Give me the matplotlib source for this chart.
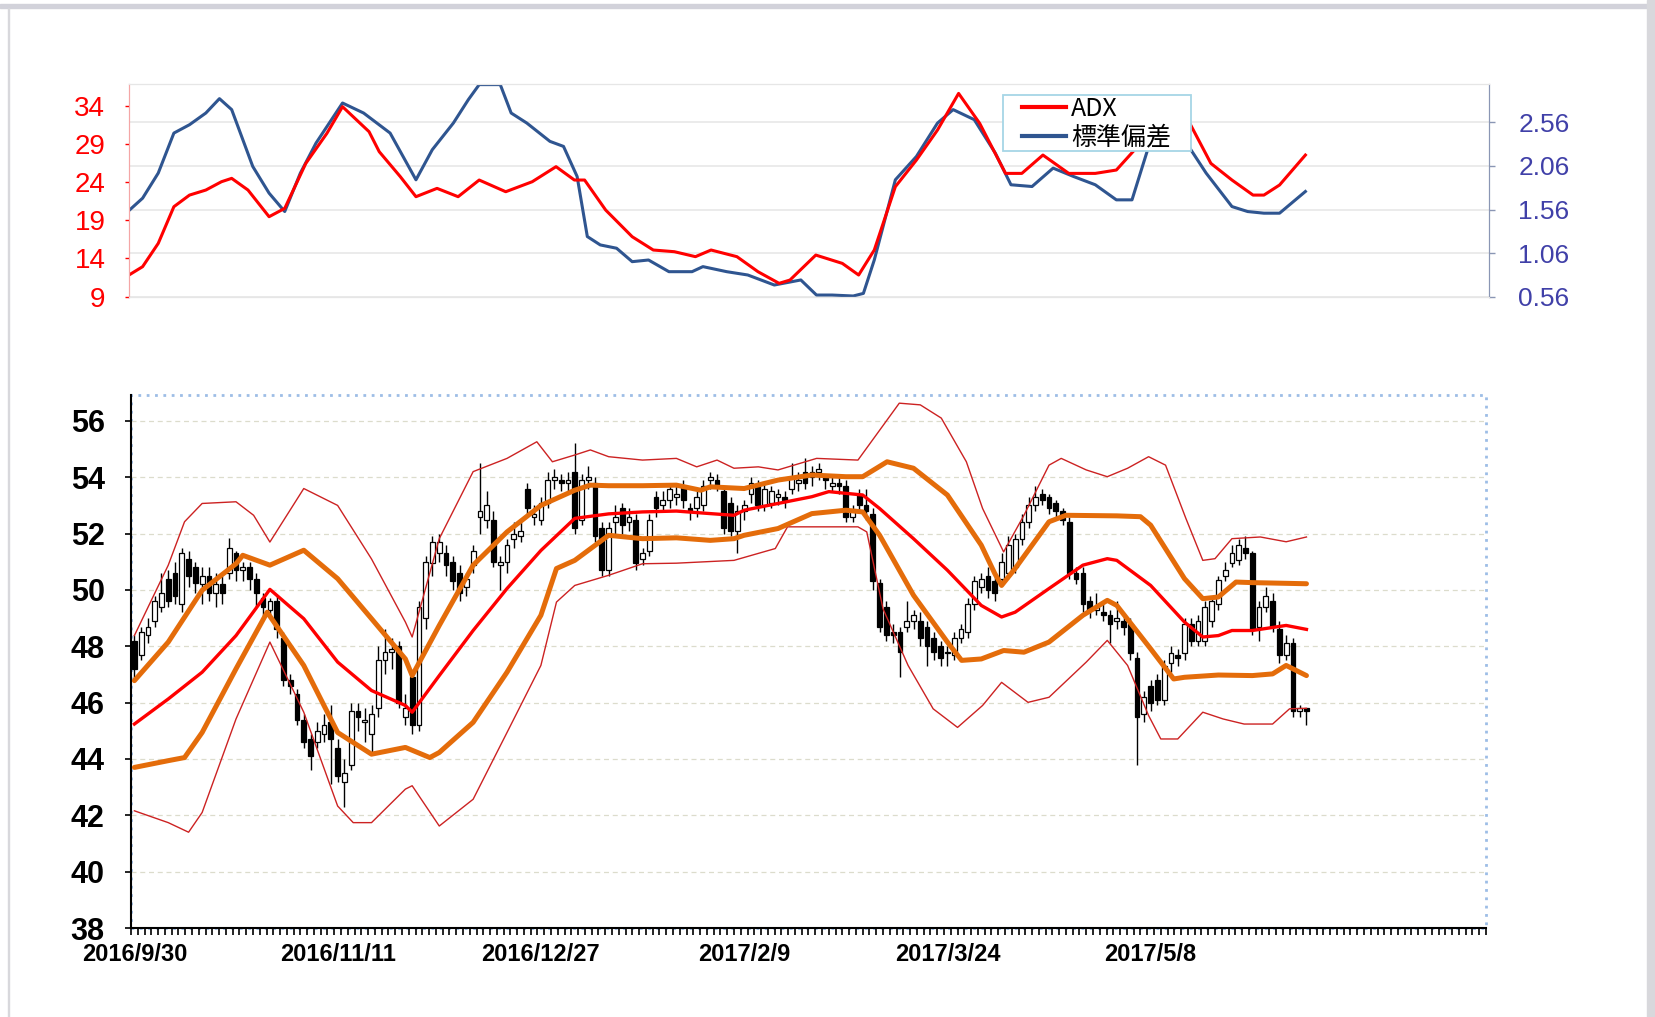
import matplotlib
matplotlib.use("Agg")
import matplotlib.pyplot as plt
from matplotlib.patches import Rectangle
from matplotlib.lines import Line2D

plt.rcParams['font.family'] = ['Liberation Sans', 'DejaVu Sans']

W, H = 1655, 1017

# ---------------- data ----------------
DATE_TICKS = [0, 30, 60, 90, 120, 150]
DATE_LABELS = ['2016/9/30', '2016/11/11', '2016/12/27', '2017/2/9', '2017/3/24', '2017/5/8']

OPEN = [48.2, 47.7, 48.4, 48.9, 49.4, 50.4, 50.6, 49.5, 51.1, 50.8,
        50.2, 50.5, 49.9, 50.2, 50.6, 51.3, 50.7, 50.8, 50.4, 49.7,
        49.3, 49.6, 48.3, 46.8, 46.3, 45.4, 44.7, 44.6, 44.9, 45.3,
        44.4, 43.2, 43.8, 45.7, 45.3, 44.9, 45.8, 47.5, 47.8, 48.0,
        45.5, 46.9, 45.2, 49.0, 50.95, 51.3, 51.3, 51.0, 50.6, 50.1,
        50.9, 52.6, 52.5, 52.5, 50.9, 51.0, 51.8, 51.9, 53.6, 52.6,
        52.5, 53.1, 53.9, 53.9, 53.8, 54.2, 52.5, 53.9, 53.8, 52.2,
        50.7, 52.4, 52.9, 52.4, 52.5, 51.1, 51.4, 53.3, 53.0, 53.2,
        53.3, 53.7, 52.9, 52.9, 53.0, 53.9, 53.9, 53.5, 53.1, 52.1,
        52.8, 53.4, 53.7, 53.0, 53.1, 53.3, 53.3, 53.6, 53.8, 54.2,
        54.2, 54.2, 54.0, 53.7, 53.8, 53.7, 52.6, 53.4, 53.0, 52.7,
        50.25, 49.4, 48.5, 48.5, 48.7, 48.9, 48.9, 48.7, 48.3, 48.0,
        47.8, 47.7, 48.3, 48.5, 49.5, 50.1, 50.5, 50.3, 50.4, 50.6,
        50.8, 51.8, 52.4, 53.0, 53.4, 53.3, 53.1, 52.8, 52.4, 50.6,
        50.6, 49.6, 49.3, 49.2, 49.1, 48.9, 48.9, 48.8, 47.6, 45.6,
        46.6, 46.8, 46.1, 47.4, 47.7, 47.75, 48.8, 48.2, 48.2, 48.9,
        49.5, 50.5, 50.95, 51.05, 51.5, 51.3, 48.7, 49.4, 49.6, 48.6,
        47.7, 48.1, 45.7, 45.8]
CLOSE = [47.2, 48.5, 48.7, 49.6, 49.9, 49.6, 49.8, 51.3, 50.5, 50.25,
         50.5, 49.9, 50.2, 49.9, 51.5, 50.7, 50.8, 50.4, 49.9, 49.4,
         49.6, 48.6, 46.8, 46.6, 45.4, 44.6, 44.1, 45.0, 45.2, 44.7,
         43.4, 43.5, 45.7, 45.5, 45.4, 45.6, 47.5, 47.8, 47.9, 46.0,
         45.8, 45.2, 49.4, 51.0, 51.7, 51.7, 50.9, 50.3, 49.9, 50.4,
         51.4, 52.8, 53.0, 51.0, 51.0, 51.6, 52.0, 52.1, 52.9, 52.7,
         53.1, 53.9, 54.0, 53.8, 53.9, 52.2, 53.9, 54.0, 51.9, 50.7,
         52.2, 52.6, 52.3, 52.6, 50.95, 51.3, 52.5, 52.9, 53.2, 53.6,
         53.4, 53.2, 52.8, 53.3, 53.7, 54.0, 53.7, 52.2, 52.1, 52.8,
         53.0, 53.8, 53.0, 53.6, 53.5, 53.4, 53.2, 54.0, 53.9, 53.8,
         54.0, 54.3, 53.9, 53.8, 53.7, 52.6, 52.8, 53.0, 52.8, 50.3,
         48.7, 48.4, 48.4, 47.8, 48.9, 49.1, 48.3, 48.0, 47.8, 47.6,
         47.75, 48.3, 48.6, 49.5, 50.3, 50.4, 50.0, 49.9, 51.0, 51.6,
         51.8, 52.4, 53.0, 53.3, 53.2, 52.9, 52.8, 52.5, 50.6, 50.4,
         49.5, 49.3, 49.4, 49.1, 48.8, 49.0, 48.7, 47.75, 45.5, 46.2,
         46.0, 46.1, 47.3, 47.75, 47.6, 48.8, 48.2, 48.9, 49.4, 49.6,
         50.35, 50.7, 51.3, 51.6, 51.3, 48.6, 49.4, 49.8, 48.7, 47.7,
         48.1, 45.7, 45.8, 45.7]
HIGH = [48.4, 48.7, 49.0, 49.8, 50.6, 50.7, 51.0, 51.5, 51.4, 51.0,
        50.8, 50.8, 50.6, 50.5, 51.85, 51.4, 51.0, 51.0, 50.6, 49.9,
        49.7, 49.8, 48.5, 47.0, 46.5, 45.6, 44.9, 45.3, 45.6, 45.9,
        44.7, 44.0, 46.0, 46.0, 45.8, 45.9, 48.0, 48.6, 48.3, 48.2,
        46.3, 47.1, 49.6, 51.2, 51.9, 52.0, 51.6, 51.2, 50.9, 50.6,
        51.6, 54.5, 53.5, 52.8, 51.2, 51.8, 52.4, 52.4, 53.8, 53.0,
        53.3, 54.2, 54.3, 54.1, 54.2, 55.2, 54.1, 54.4, 54.0, 52.4,
        52.4, 53.0, 53.1, 52.9, 52.7, 51.5, 52.7, 53.5, 53.5, 53.8,
        53.7, 53.9, 53.1, 53.5, 53.9, 54.2, 54.1, 53.7, 53.3, 53.0,
        53.2, 54.0, 53.9, 53.8, 53.7, 53.6, 53.5, 54.5, 54.2, 54.7,
        54.4, 54.5, 54.1, 54.0, 54.0, 53.9, 53.0, 53.6, 53.6, 52.9,
        50.4, 49.6, 48.8, 48.7, 49.6, 49.3, 49.2, 48.9, 48.5, 48.2,
        48.0, 48.5, 48.8, 49.7, 50.5, 50.6, 50.8, 50.5, 51.3, 51.9,
        52.0, 52.7, 53.3, 53.7, 53.6, 53.4, 53.2, 52.9, 52.6, 50.8,
        50.8, 49.8, 49.9, 49.5, 49.3, 49.6, 49.1, 49.0, 47.8, 46.4,
        46.8, 47.0, 47.5, 48.0, 47.9, 49.0, 49.0, 49.1, 49.6, 49.8,
        50.5, 51.0, 51.6, 51.8, 51.9, 51.4, 49.6, 50.1, 49.9, 48.9,
        48.4, 48.3, 45.9, 45.8]
LOW = [46.8, 47.5, 48.1, 48.7, 49.2, 49.4, 49.5, 49.2, 50.1, 49.9,
       49.5, 49.6, 49.4, 49.5, 50.4, 50.3, 50.3, 50.0, 49.4, 49.0,
       49.0, 48.3, 46.6, 46.3, 45.2, 44.4, 43.6, 44.4, 44.6, 43.1,
       43.2, 42.3, 43.6, 45.0, 44.6, 44.2, 45.5, 47.0, 47.2, 45.8,
       45.2, 44.9, 45.0, 48.6, 50.5, 51.0, 50.5, 50.0, 49.6, 49.8,
       50.6, 52.0, 52.2, 50.8, 50.0, 50.6, 51.5, 51.7, 52.6, 52.3,
       52.3, 52.9, 53.6, 53.5, 53.5, 52.0, 52.3, 53.6, 51.7, 50.5,
       50.5, 52.0, 52.0, 52.1, 50.7, 50.9, 51.2, 52.6, 52.8, 52.9,
       53.0, 52.9, 52.5, 52.6, 52.8, 53.6, 53.5, 52.0, 51.9, 51.3,
       52.5, 53.1, 52.8, 52.8, 52.9, 53.0, 52.9, 53.4, 53.5, 53.6,
       53.7, 53.9, 53.6, 53.5, 53.4, 52.4, 52.4, 52.8, 52.5, 50.0,
       48.5, 48.2, 48.1, 46.9, 48.5, 48.6, 48.0, 47.3, 47.5, 47.3,
       47.3, 47.5, 48.1, 48.3, 49.3, 49.9, 49.7, 49.6, 50.2, 50.4,
       50.6, 51.6, 52.2, 52.8, 53.0, 52.7, 52.6, 52.3, 50.4, 50.2,
       49.2, 49.0, 49.1, 48.9, 48.1, 48.6, 48.4, 47.5, 43.8, 45.3,
       45.7, 45.9, 45.9, 47.1, 47.3, 47.5, 48.0, 48.0, 48.0, 48.7,
       49.3, 50.3, 50.8, 50.9, 51.1, 48.4, 48.2, 49.2, 48.5, 47.4,
       47.5, 45.5, 45.5, 45.2]

# moving average (thick red)
MID_X = [0, 5, 10, 15, 20, 25, 30, 35, 40, 41, 45, 50, 55, 60, 65, 70, 75, 80,
         85, 88.5, 90, 95, 100, 102.5, 105, 107.5, 110, 115, 120, 125, 128, 130,
         135, 140, 143.6, 145, 150, 155, 157.7, 160, 162, 165, 170, 173]
MID = [45.24, 46.13, 47.08, 48.38, 50.02, 48.98, 47.44, 46.43, 45.9, 45.66, 46.96,
       48.56, 50.05, 51.4, 52.54, 52.7, 52.77, 52.8, 52.71, 52.65, 52.83, 53.07,
       53.31, 53.49, 53.43, 53.37, 52.89, 51.82, 50.7, 49.45, 49.04, 49.21, 50.05,
       50.88, 51.11, 51.05, 50.16, 48.86, 48.33, 48.38, 48.56, 48.56, 48.74, 48.6]

# +1 sigma (thick orange)
UP1_X = [0, 5, 10, 15, 16, 20, 25, 30, 35, 40, 41, 45, 50, 55, 60, 65, 67.3, 70,
         75, 80, 83.6, 85, 90, 95, 100, 105, 107.5, 111.1, 115, 120, 125, 127, 128,
         130, 135, 137.5, 145, 148.5, 150, 155, 157.7, 160, 162.6, 165, 173]
UP1 = [46.78, 48.15, 49.99, 50.93, 51.23, 50.88, 51.41, 50.4, 48.98, 47.55, 46.96,
       48.74, 50.88, 52.06, 53.0, 53.54, 53.72, 53.7, 53.7, 53.72, 53.54, 53.66,
       53.6, 53.9, 54.08, 54.02, 54.02, 54.55, 54.32, 53.37, 51.59, 50.58, 50.16,
       50.76, 52.42, 52.65, 52.63, 52.6, 52.3, 50.4, 49.69, 49.75, 50.28, 50.26, 50.22]

# -1 sigma (thick orange)
LO1_X = [0, 5, 7.4, 10, 15, 19.6, 25, 30, 35, 40, 43.6, 45, 50, 55, 60, 62.3, 65,
         70, 75, 80, 85, 88.5, 90, 95, 100, 105, 107.5, 110, 115, 120, 122.1, 125,
         128.3, 131.3, 135, 140, 143.6, 145, 150, 153.4, 155, 160, 165, 168, 170, 173]
LO1 = [43.7, 43.94, 44.05, 44.94, 47.2, 49.21, 47.32, 44.94, 44.17, 44.41, 44.05,
       44.23, 45.3, 47.08, 49.1, 50.76, 51.05, 51.94, 51.82, 51.85, 51.76, 51.82,
       51.94, 52.18, 52.71, 52.83, 52.77, 51.94, 49.81, 48.15, 47.5, 47.55, 47.85,
       47.79, 48.15, 49.1, 49.63, 49.45, 47.91, 46.84, 46.9, 46.98, 46.96, 47.02,
       47.32, 46.96]

# +2 sigma (thin red)
UP2_X = [0, 5, 7.4, 10, 15, 17.6, 20, 25, 30, 35, 40, 41, 45, 50, 55, 59.4, 61.7,
         65, 67.3, 70, 75, 80, 83, 86, 88.5, 92.1, 95, 100.7, 106.8, 112.9, 116,
         119.1, 122.8, 125.2, 128.3, 131.3, 135, 136.8, 140.5, 143.6, 146.6, 149.7,
         152.2, 155.2, 157.7, 159.5, 162, 166.2, 170, 173]
UP2 = [48.38, 50.88, 52.42, 53.07, 53.13, 52.65, 51.7, 53.6, 53.0, 51.1, 48.86,
       48.33, 51.82, 54.2, 54.67, 55.26, 54.55, 54.79, 54.97, 54.73, 54.61, 54.67,
       54.37, 54.61, 54.32, 54.37, 54.26, 54.67, 54.61, 56.63, 56.57, 56.1, 54.55,
       52.89, 51.35, 52.65, 54.43, 54.67, 54.26, 54.02, 54.32, 54.73, 54.43, 52.54,
       51.05, 51.11, 51.82, 51.88, 51.71, 51.88]

# -2 sigma (thin red)
LO2_X = [0, 5, 8, 10, 15, 20, 25, 30, 32.3, 35, 40, 41, 45, 50, 55, 60, 62.3, 65,
         70, 75, 80, 88.5, 94.6, 96.4, 106.8, 108.1, 110.5, 114.2, 117.9, 121.5,
         125.2, 128, 131.9, 135, 140.5, 143.6, 146.6, 149.7, 151.5, 154, 157.7,
         160.7, 163.8, 168, 170.5, 173]
LO2 = [42.16, 41.74, 41.4, 42.1, 45.42, 48.15, 45.66, 42.33, 41.74, 41.74, 42.93,
       43.05, 41.62, 42.57, 44.94, 47.32, 49.57, 50.16, 50.52, 50.93, 50.95, 51.05,
       51.47, 52.24, 52.24, 52.06, 49.33, 47.32, 45.78, 45.12, 45.9, 46.72, 46.01,
       46.19, 47.44, 48.21, 47.32, 45.54, 44.71, 44.71, 45.66, 45.42, 45.24, 45.24,
       45.78, 45.8]

# ADX (left axis) and standard deviation (right axis)
ADX_X = [0, 2, 4.3, 6.6, 8.9, 11.3, 13.6, 15.1, 17.5, 20.6, 22.9, 26, 29.1, 31.4,
         35.3, 36.8, 39.9, 42.2, 45.3, 48.4, 51.5, 55.4, 59.3, 62.8, 65.5, 67, 70.1,
         74, 77.1, 80.2, 83.3, 85.6, 89.4, 92.5, 95.6, 97.2, 101, 104.9, 107.3,
         109.6, 112.7, 115.8, 118.9, 122, 125.1, 128.9, 131.3, 134.4, 138.2, 142.1,
         145.2, 148.3, 152.9, 156, 159.1, 162.2, 165.3, 166.9, 169.2, 173]
ADX = [11.84, 12.93, 15.98, 20.78, 22.3, 22.96, 24.05, 24.49, 22.96, 19.47, 20.56,
       26.45, 30.38, 33.87, 30.6, 27.98, 24.71, 22.09, 23.18, 22.09, 24.27, 22.74,
       24.05, 26.02, 24.27, 24.27, 20.34, 16.85, 15.11, 14.89, 14.24, 15.11, 14.24,
       12.27, 10.75, 11.18, 14.45, 13.36, 11.84, 15.11, 23.4, 26.89, 30.82, 35.61,
       31.69, 25.14, 25.14, 27.54, 25.14, 25.14, 25.58, 28.63, 33.4, 31.69, 26.45,
       24.27, 22.3, 22.3, 23.62, 27.54]

STD_X = [0, 2, 4.3, 6.6, 8.9, 11.3, 13.3, 15.1, 18.2, 20.6, 22.9, 25.2, 27.5, 31.4,
         34.5, 38.4, 42.2, 44.6, 47.7, 49.9, 51.5, 54.6, 56.2, 58.5, 61.9, 63.9,
         65.9, 67.4, 69.3, 71.7, 74.0, 76.4, 79.4, 82.8, 84.4, 87.9, 91.0, 94.9,
         98.8, 101.1, 103.4, 106.5, 108.0, 109.6, 112.7, 115.8, 118.9, 121.2, 124.3,
         127.4, 129.7, 132.8, 135.9, 138.9, 142.1, 145.2, 147.5, 149.8, 151.4,
         155.2, 158.4, 162.2, 164.5, 166.9, 169.2, 173]
STD = [1.549, 1.69, 1.978, 2.437, 2.533, 2.667, 2.832, 2.706, 2.054, 1.748, 1.537,
       1.978, 2.322, 2.782, 2.667, 2.437, 1.901, 2.246, 2.552, 2.82, 2.993, 2.993,
       2.667, 2.552, 2.342, 2.284, 1.939, 1.25, 1.154, 1.116, 0.962, 0.981, 0.847,
       0.847, 0.905, 0.847, 0.809, 0.694, 0.752, 0.579, 0.579, 0.568, 0.598, 0.981,
       1.901, 2.169, 2.552, 2.706, 2.591, 2.207, 1.844, 1.824, 2.035, 1.939, 1.844,
       1.671, 1.671, 2.246, 2.437, 2.36, 1.978, 1.594, 1.537, 1.518, 1.518, 1.767]

# ---------------- figure ----------------
fig = plt.figure(figsize=(W / 100, H / 100), dpi=100)
fig.patch.set_facecolor('white')
# window frame
fig.patches.append(Rectangle((0, 1 - 8 / H), 1, 4 / H, transform=fig.transFigure,
                             color='#d2d2da', zorder=0))
fig.patches.append(Rectangle((1647 / W, 0), 8 / W, 1, transform=fig.transFigure,
                             color='#d8d8dc', zorder=0))
fig.patches.append(Rectangle((8 / W, 0), 1 / W, 1 - 8 / H, transform=fig.transFigure,
                             color='#d8d8dc', zorder=0))

# ---- top panel: ADX / std ----
ax1 = fig.add_axes([129 / W, 1 - 296.7 / H, 1360 / W, 212.7 / H])
ax2 = ax1.twinx()
ax1.set_zorder(3)
ax1.patch.set_visible(False)

ax2.plot(STD_X, STD, color='#2f5590', lw=2.2, zorder=2)
ax1.plot(ADX_X, ADX, color='#ff0000', lw=2.2, zorder=2)

ax1.set_xlim(0, 200)
ax1.set_ylim(9, 36.84)
ax2.set_ylim(0.56, 3.0)
ax1.set_xticks([])
ax1.set_yticks([9, 14, 19, 24, 29, 34])
ax2.set_yticks([0.56, 1.06, 1.56, 2.06, 2.56])
ax2.set_yticklabels(['0.56', '1.06', '1.56', '2.06', '2.56'])
ax2.yaxis.grid(True, color='#ebebeb', lw=1.4)
ax2.set_axisbelow(True)
ax1.tick_params(axis='y', colors='#ff0000', labelsize=20, length=3, width=1, pad=14)
ax2.tick_params(axis='y', colors='#8a96b4', labelcolor='#4040a8', labelsize=19,
                length=4, width=1, pad=17)
for a in (ax1, ax2):
    a.spines['top'].set_color('#e6e6e6')
    a.spines['bottom'].set_color('#e6e6e6')
    a.spines['left'].set_color('#f4a6a6')
    a.spines['right'].set_color('#8a96b4')

# legend with its own box (wider side margins than matplotlib's padding allows)
fig.patches.append(Rectangle((1003 / W, 1 - 151 / H), 188 / W, 56 / H,
                             transform=fig.transFigure, facecolor='white',
                             edgecolor='#a6d6e6', lw=1.3, zorder=4))
handles = [Line2D([], [], color='#ff0000', lw=3), Line2D([], [], color='#2f5590', lw=3)]
leg = fig.legend(handles, ['ADX', '標準偏差'], loc='center left',
                 bbox_to_anchor=(1022 / W, 1 - 123 / H), frameon=False,
                 borderpad=0, handlelength=1.75, handletextpad=0.2,
                 labelspacing=0.12, borderaxespad=0,
                 prop={'family': ['Noto Sans CJK JP', 'DejaVu Sans'], 'size': 18})
leg.set_zorder(5)

# ---- bottom panel: candles + bands ----
ax = fig.add_axes([131 / W, 1 - 928 / H, 1355 / W, 533 / H])
idx = list(range(len(CLOSE)))

ax.vlines(idx, LOW, HIGH, color='black', lw=1.0, zorder=2)
bottoms = [min(o, c) for o, c in zip(OPEN, CLOSE)]
heights = [max(abs(c - o), 0.04) for o, c in zip(OPEN, CLOSE)]
faces = ['white' if c >= o else 'black' for o, c in zip(OPEN, CLOSE)]
ax.bar(idx, heights, bottom=bottoms, width=0.7, color=faces, edgecolor='black',
       linewidth=0.9, zorder=3)

ax.plot(UP2_X, UP2, color='#cc2222', lw=1.0, zorder=4)
ax.plot(LO2_X, LO2, color='#cc2222', lw=1.0, zorder=4)
ax.plot(UP1_X, UP1, color='#e46c0a', lw=3.6, zorder=5, solid_capstyle='round')
ax.plot(LO1_X, LO1, color='#e46c0a', lw=3.6, zorder=5, solid_capstyle='round')
ax.plot(MID_X, MID, color='#ff0000', lw=2.4, zorder=6)

ax.set_xlim(-0.5, 199.5)
ax.set_ylim(38, 56.92)
ax.set_yticks(range(38, 57, 2))
ax.yaxis.grid(True, color='#dcdccc', lw=0.9, ls=(0, (4, 3)))
ax.set_axisbelow(True)
ax.set_xticks(DATE_TICKS)
ax.set_xticklabels(DATE_LABELS)
ax.set_xticks([i - 0.5 for i in range(201)], minor=True)
ax.tick_params(axis='x', which='both', length=5, width=1.2, direction='out',
               labelsize=17, pad=11)
ax.tick_params(axis='x', which='major', length=0)
ax.tick_params(axis='y', length=4, width=1.2, labelsize=22, pad=15)
for lab in ax.get_xticklabels() + ax.get_yticklabels():
    lab.set_fontweight('bold')

for s in ('top', 'right'):
    ax.spines[s].set_visible(False)
for s in ('left', 'bottom'):
    ax.spines[s].set_color('black')
    ax.spines[s].set_linewidth(1.5)
ax.add_patch(Rectangle((0, 0), 1, 1, transform=ax.transAxes, fill=False,
                       edgecolor='#9dbde6', lw=2, ls=(0, (1, 2)), clip_on=False,
                       zorder=0))

fig.savefig('out.png', dpi=100)
